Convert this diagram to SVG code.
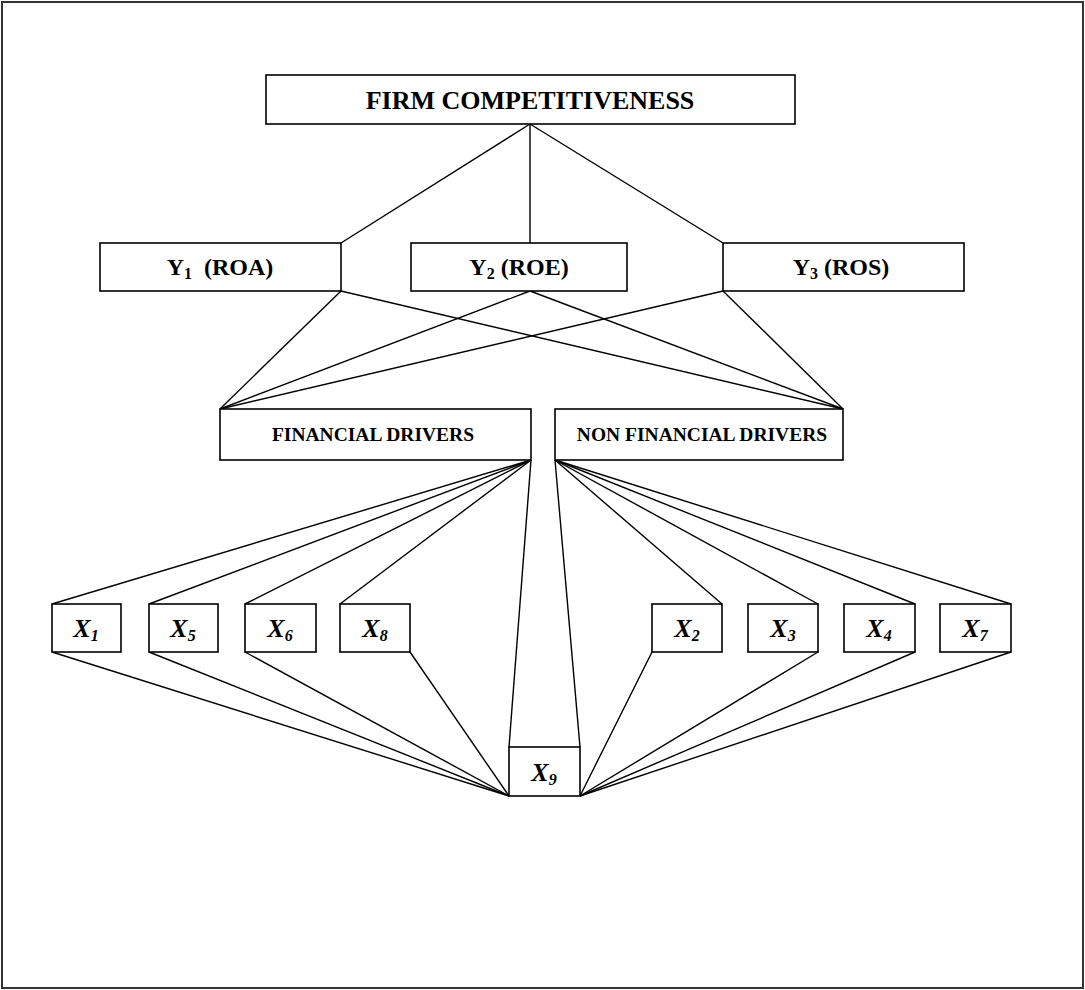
<svg xmlns="http://www.w3.org/2000/svg" width="1085" height="990" viewBox="0 0 1085 990">
<style>
.box{fill:#fff;stroke:#000;stroke-width:1.6}
.ln{stroke:#000;stroke-width:1.4;fill:none}
text{font-family:'Liberation Serif','Times New Roman','DejaVu Serif',serif;font-weight:bold;text-anchor:middle;fill:#000}
.big{font-size:26px}
.mid{font-size:24px}
.sm{font-size:19.5px}
.x{font-size:26px;font-style:italic}
.sub{font-size:16px}
</style>
<rect x="2" y="2" width="1081" height="986" fill="#fff" stroke="#333" stroke-width="2"/>
<g id="connectors" class="ln">
<line x1="530" y1="124" x2="341" y2="243"/>
<line x1="530" y1="124" x2="530" y2="243"/>
<line x1="530" y1="124" x2="723" y2="243"/>
<line x1="341" y1="291" x2="220" y2="409"/>
<line x1="341" y1="291" x2="843" y2="409"/>
<line x1="530" y1="291" x2="220" y2="409"/>
<line x1="530" y1="291" x2="843" y2="409"/>
<line x1="723" y1="291" x2="220" y2="409"/>
<line x1="723" y1="291" x2="843" y2="409"/>
<line x1="531" y1="460" x2="52" y2="604"/>
<line x1="531" y1="460" x2="149" y2="604"/>
<line x1="531" y1="460" x2="245" y2="604"/>
<line x1="531" y1="460" x2="340" y2="604"/>
<line x1="531" y1="460" x2="509" y2="747"/>
<line x1="555" y1="460" x2="722" y2="604"/>
<line x1="555" y1="460" x2="818" y2="604"/>
<line x1="555" y1="460" x2="915" y2="604"/>
<line x1="555" y1="460" x2="1011" y2="604"/>
<line x1="555" y1="460" x2="580" y2="747"/>
<line x1="52" y1="652" x2="509" y2="796"/>
<line x1="149" y1="652" x2="509" y2="796"/>
<line x1="245" y1="652" x2="509" y2="796"/>
<line x1="410" y1="652" x2="509" y2="796"/>
<line x1="652" y1="652" x2="580" y2="796"/>
<line x1="818" y1="652" x2="580" y2="796"/>
<line x1="915" y1="652" x2="580" y2="796"/>
<line x1="1011" y1="652" x2="580" y2="796"/>
</g>
<g id="firm"><rect class="box" x="266" y="75" width="529" height="49"/><text class="big" x="530" y="109">FIRM COMPETITIVENESS</text></g>
<g id="y1"><rect class="box" x="100" y="243" width="241" height="48"/><text class="mid" x="220" y="275" xml:space="preserve">Y<tspan class="sub" dy="4">1</tspan><tspan dy="-4">  (ROA)</tspan></text></g>
<g id="y2"><rect class="box" x="411" y="243" width="216" height="48"/><text class="mid" x="519" y="275">Y<tspan class="sub" dy="4">2</tspan><tspan dy="-4"> (ROE)</tspan></text></g>
<g id="y3"><rect class="box" x="723" y="243" width="241" height="48"/><text class="mid" x="841" y="275">Y<tspan class="sub" dy="4">3</tspan><tspan dy="-4"> (ROS)</tspan></text></g>
<g id="fd"><rect class="box" x="220" y="409" width="311" height="51"/><text class="sm" x="373" y="441">FINANCIAL DRIVERS</text></g>
<g id="nfd"><rect class="box" x="555" y="409" width="288" height="51"/><text class="sm" x="702" y="441">NON FINANCIAL DRIVERS</text></g>
<g id="x1"><rect class="box" x="52" y="604" width="69" height="48"/><text class="x" x="86" y="637">X<tspan class="sub" dy="4">1</tspan></text></g>
<g id="x5"><rect class="box" x="149" y="604" width="69" height="48"/><text class="x" x="183" y="637">X<tspan class="sub" dy="4">5</tspan></text></g>
<g id="x6"><rect class="box" x="245" y="604" width="71" height="48"/><text class="x" x="280" y="637">X<tspan class="sub" dy="4">6</tspan></text></g>
<g id="x8"><rect class="box" x="340" y="604" width="70" height="48"/><text class="x" x="375" y="637">X<tspan class="sub" dy="4">8</tspan></text></g>
<g id="x2"><rect class="box" x="652" y="604" width="70" height="48"/><text class="x" x="687" y="637">X<tspan class="sub" dy="4">2</tspan></text></g>
<g id="x3"><rect class="box" x="748" y="604" width="70" height="48"/><text class="x" x="783" y="637">X<tspan class="sub" dy="4">3</tspan></text></g>
<g id="x4"><rect class="box" x="844" y="604" width="71" height="48"/><text class="x" x="879" y="637">X<tspan class="sub" dy="4">4</tspan></text></g>
<g id="x7"><rect class="box" x="940" y="604" width="71" height="48"/><text class="x" x="975" y="637">X<tspan class="sub" dy="4">7</tspan></text></g>
<g id="x9"><rect class="box" x="509" y="747" width="71" height="49"/><text class="x" x="544" y="781">X<tspan class="sub" dy="4">9</tspan></text></g>
</svg>
